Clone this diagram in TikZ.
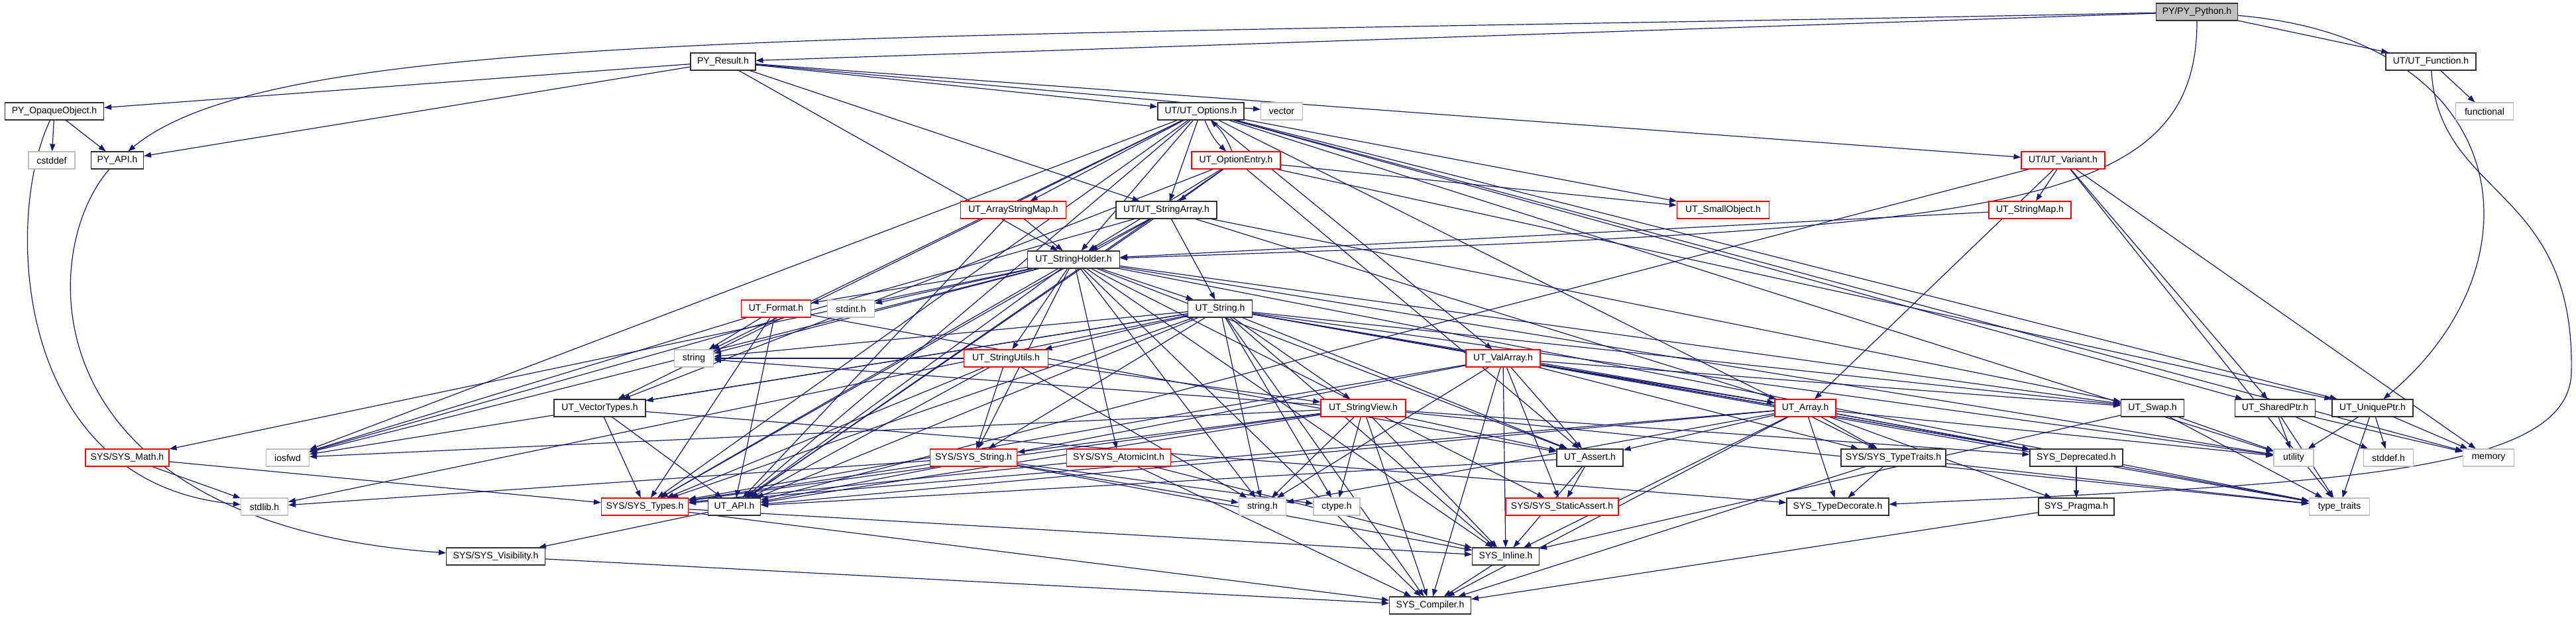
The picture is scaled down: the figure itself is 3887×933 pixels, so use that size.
\documentclass[tikz,border=0pt]{standalone}
\usepackage{fontspec}
\setmainfont{Liberation Sans}
\usetikzlibrary{arrows.meta,backgrounds}
\definecolor{edgeblue}{HTML}{191970}
\definecolor{sysgray}{HTML}{BFBFBF}
\definecolor{boxred}{HTML}{FF0000}
\definecolor{boxblack}{HTML}{303030}
\begin{document}
\begin{tikzpicture}[x=1pt,y=-1pt,
 nd/.style={draw=boxblack, line width=1.1pt, fill=white, minimum height=26pt, inner sep=0pt, font=\fontsize{14}{16}\selectfont},
 rd/.style={nd, draw=boxred},
 gd/.style={nd, draw=sysgray},
 edge/.style={draw=edgeblue, line width=1.2pt, -{Triangle[length=11pt,width=8pt]}}]
\useasboundingbox (0,0) rectangle (3887,933);
% row 1
\node[nd, fill=sysgray, minimum width=123pt] (pypy) at (3315,18) {PY/PY\_Python.h};
% row 2
\node[nd, minimum width=98pt] (pyres) at (1091,93) {PY\_Result.h};
\node[nd, minimum width=136pt] (utfunc) at (3668,93) {UT/UT\_Function.h};
% row 3
\node[nd, minimum width=149pt] (pyopq) at (82,168) {PY\_OpaqueObject.h};
\node[nd, minimum width=130pt] (utopt) at (1812,168) {UT/UT\_Options.h};
\node[gd, minimum width=63pt] (vector) at (1934,168) {vector};
\node[gd, minimum width=87pt] (functional) at (3749,168) {functional};
% row 4
\node[gd, minimum width=70pt] (cstddef) at (78,242) {cstddef};
\node[nd, minimum width=79pt] (pyapi) at (177,242) {PY\_API.h};
\node[rd, minimum width=134pt] (optent) at (1865,242) {UT\_OptionEntry.h};
\node[rd, minimum width=126pt] (variant) at (3113,242) {UT/UT\_Variant.h};
% row 5
\node[rd, minimum width=159pt] (asm) at (1529,317) {UT\_ArrayStringMap.h};
\node[nd, minimum width=152pt] (strarr) at (1760,317) {UT/UT\_StringArray.h};
\node[rd, minimum width=139pt] (smallobj) at (2600,317) {UT\_SmallObject.h};
\node[rd, minimum width=124pt] (strmap) at (3063,317) {UT\_StringMap.h};
% row 6
\node[nd, minimum width=139pt] (strhold) at (1620,392) {UT\_StringHolder.h};
% row 7
\node[rd, minimum width=105pt] (format) at (1171,466) {UT\_Format.h};
\node[gd, minimum width=71pt] (stdint) at (1284,466) {stdint.h};
\node[nd, minimum width=97pt] (utstr) at (1841,466) {UT\_String.h};
% row 8
\node[gd, minimum width=59pt] (string) at (1047,541) {string};
\node[rd, minimum width=127pt] (strutil) at (1518,541) {UT\_StringUtils.h};
\node[rd, minimum width=112pt] (valarr) at (2268,541) {UT\_ValArray.h};
% row 9
\node[nd, minimum width=138pt] (vectyp) at (905,616) {UT\_VectorTypes.h};
\node[rd, minimum width=128pt] (strview) at (2057,616) {UT\_StringView.h};
\node[rd, minimum width=92pt] (utarr) at (2724,616) {UT\_Array.h};
\node[nd, minimum width=95pt] (swap) at (3248,616) {UT\_Swap.h};
\node[nd, minimum width=121pt] (shptr) at (3433,616) {UT\_SharedPtr.h};
\node[nd, minimum width=122pt] (uqptr) at (3580,616) {UT\_UniquePtr.h};
% row 10
\node[rd, minimum width=126pt] (sysmath) at (192,691) {SYS/SYS\_Math.h};
\node[gd, minimum width=65pt] (iosfwd) at (434,691) {iosfwd};
\node[rd, minimum width=131pt] (sysstr) at (1469,691) {SYS/SYS\_String.h};
\node[rd, minimum width=157pt] (atomic) at (1688,691) {SYS/SYS\_AtomicInt.h};
\node[nd, minimum width=100pt] (assert) at (2399,691) {UT\_Assert.h};
\node[nd, minimum width=158pt] (typetr) at (2857,691) {SYS/SYS\_TypeTraits.h};
\node[nd, minimum width=140pt] (deprec) at (3133,691) {SYS\_Deprecated.h};
\node[gd, minimum width=60pt] (utility) at (3461,691) {utility};
\node[gd, minimum width=75pt] (stddef) at (3604,691) {stddef.h};
\node[gd, minimum width=77pt] (memory) at (3755,691) {memory};
% row 11
\node[gd, minimum width=71pt] (stdlib) at (399,765) {stdlib.h};
\node[rd, minimum width=131pt] (systypes) at (973,765) {SYS/SYS\_Types.h};
\node[nd, minimum width=79pt] (utapi) at (1108,765) {UT\_API.h};
\node[gd, minimum width=71pt] (stringh) at (1905,765) {string.h};
\node[gd, minimum width=70pt] (ctype) at (2017,765) {ctype.h};
\node[rd, minimum width=170pt] (statassert) at (2357,765) {SYS/SYS\_StaticAssert.h};
\node[nd, minimum width=154pt] (typedec) at (2773,765) {SYS\_TypeDecorate.h};
\node[nd, minimum width=114pt] (pragma) at (3133,765) {SYS\_Pragma.h};
\node[gd, minimum width=91pt] (typetraits) at (3530,765) {type\_traits};
% row 12
\node[nd, minimum width=149pt] (visib) at (748,840) {SYS/SYS\_Visibility.h};
\node[nd, minimum width=101pt] (inline) at (2272,840) {SYS\_Inline.h};
% row 13
\node[nd, minimum width=123pt] (compiler) at (2158,914) {SYS\_Compiler.h};

\begin{pgfonlayer}{background}
\fill[white] (0,0) rectangle (3887,933);
% PY_Python
\draw[edge] (pypy) -- (pyres);
\draw[edge] (pypy) -- (utfunc);
\draw[edge] (pypy) .. controls (1300,60) and (420,40) .. (pyapi);
\draw[edge] (pypy) .. controls (3315,330) and (3000,345) .. (strhold);
\draw[edge] (pypy) .. controls (3800,60) and (3840,400) .. (uqptr);
% PY_Result
\foreach \t in {pyopq,pyapi,utopt,vector,strhold,strarr,variant} \draw[edge] (pyres) -- (\t);
% UT_Function
\draw[edge] (utfunc) -- (functional);
\draw[edge] (utfunc) .. controls (3680,300) and (3885,280) .. (3880,560) .. controls (3880,720) and (3500,730) .. (typedec);
% PY_OpaqueObject / PY_API
\draw[edge] (pyopq) -- (cstddef);
\draw[edge] (pyopq) -- (pyapi);
\draw[edge] (pyopq) .. controls (5,330) and (20,730) .. (stdlib);
\draw[edge] (pyapi) .. controls (55,380) and (40,790) .. (visib);
% UT_Options
\draw[edge] (utopt) to[bend right=12] (optent);
\draw[edge] (optent) to[bend right=12] (utopt);
\foreach \t in {asm,strarr,strhold,smallobj,vectyp,utapi,iosfwd,string,systypes,valarr,typetr,shptr,uqptr,memory,utility} \draw[edge] (utopt) -- (\t);
% UT_OptionEntry
\foreach \t in {strarr,strhold,smallobj,vectyp,utapi,assert,uqptr} \draw[edge] (optent) -- (\t);
% UT_Variant
\foreach \t in {strmap,utarr,shptr,memory,typetraits,utapi} \draw[edge] (variant) -- (\t);
% UT_ArrayStringMap, StringArray, StringMap
\foreach \t in {strhold,utapi} \draw[edge] (asm) -- (\t);
\foreach \t in {strhold,utstr,utarr,utapi,iosfwd,swap,systypes} \draw[edge] (strarr) -- (\t);
\draw[edge] (strmap) -- (strhold);
% UT_StringHolder
\foreach \t in {utstr,format,stdint,strutil,sysstr,atomic,sysmath,utapi,systypes,iosfwd,string,assert,swap,compiler,inline,stringh,statassert,utility,typetraits} \draw[edge] (strhold) -- (\t);
% UT_Format
\foreach \t in {string,iosfwd,utapi,systypes,assert} \draw[edge] (format) -- (\t);
% UT_String
\foreach \t in {strutil,strview,sysstr,vectyp,utapi,systypes,string,iosfwd,stringh,ctype,assert,inline,compiler,swap,deprec,stdlib,typetraits,utility,utarr} \draw[edge] (utstr) -- (\t);
% UT_StringUtils
\foreach \t in {strview,sysstr,utapi,systypes,stringh,string} \draw[edge] (strutil) -- (\t);
% UT_ValArray
\foreach \t in {utarr,assert,utapi,systypes,compiler,stringh,inline,statassert,typetr,swap,deprec} \draw[edge] (valarr) -- (\t);
% UT_VectorTypes
\foreach \t in {systypes,utapi,typedec} \draw[edge] (vectyp) -- (\t);
% UT_StringView
\foreach \t in {sysstr,utapi,stringh,ctype,inline,compiler,assert,systypes,iosfwd,string,typetraits,deprec} \draw[edge] (strview) -- (\t);
% UT_Array
\foreach \t in {assert,typetr,typedec,deprec,utapi,systypes,inline,compiler,stringh,utility,typetraits,pragma} \draw[edge] (utarr) -- (\t);
% pointers, swap
\foreach \t in {utility,typetraits,inline} \draw[edge] (swap) -- (\t);
\foreach \t in {utility,stddef,memory,typetraits} \draw[edge] (shptr) -- (\t);
\foreach \t in {utility,stddef,memory,typetraits} \draw[edge] (uqptr) -- (\t);
% SYS level
\foreach \t in {systypes,stringh,stdlib,inline,ctype} \draw[edge] (sysstr) -- (\t);
\foreach \t in {systypes,inline,compiler} \draw[edge] (atomic) -- (\t);
\foreach \t in {statassert,inline,utapi} \draw[edge] (assert) -- (\t);
\foreach \t in {typedec,compiler,typetraits} \draw[edge] (typetr) -- (\t);
\draw[edge] (deprec) -- (pragma);
\draw[edge] (pragma) -- (compiler);
\foreach \t in {inline,compiler} \draw[edge] (systypes) -- (\t);
\draw[edge] (utapi) -- (visib);
\draw[edge] (inline) -- (compiler);
\draw[edge] (visib) -- (compiler);
\foreach \t in {stdlib,systypes} \draw[edge] (sysmath) -- (\t);
\end{pgfonlayer}
\end{tikzpicture}
\end{document}
